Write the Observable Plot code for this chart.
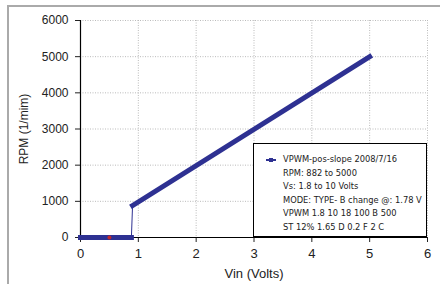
<!DOCTYPE html>
<html><head><meta charset="utf-8">
<script src="https://cdn.jsdelivr.net/npm/d3@7"></script>
<script src="https://cdn.jsdelivr.net/npm/@observablehq/plot@0.6"></script>
<style>
body{margin:0;background:#fff;}
#wrap{position:relative;width:440px;height:284px;overflow:hidden;background:#fff;}
#frame{position:absolute;left:7px;top:5px;width:500px;height:400px;border-top:2px solid #aaa;border-left:2px solid #aaa;}
#legend{position:absolute;left:253px;top:143px;width:174px;height:94px;border:1px solid #000;background:#fff;box-sizing:border-box;
 font-family:"DejaVu Sans",sans-serif;font-size:8.3px;color:#222;padding-top:9px;}
#legend div{height:13.6px;line-height:13.6px;padding-left:29px;position:relative;white-space:nowrap;}
#legend .mk{position:absolute;left:12px;top:6px;width:10px;height:1.5px;background:#2E3192;}
#legend .mk:after{content:"";position:absolute;left:3px;top:-1.5px;width:4px;height:4px;background:#2E3192;}
#chart{position:absolute;left:0;top:0;}
</style></head>
<body><div id="wrap"><div id="frame"></div><div id="chart"></div><div id="legend"></div></div>
<script>
const xTicks = [0,1,2,3,4,5,6];
const yTicks = [0,1000,2000,3000,4000,5000,6000];
const vin = [0, 0.5, 0.88, 0.9, 5.0];
const rpm = [0, 0, 0, 882, 5000];
const segment = ["off","off","off","on","on"];
const markerX = [0.5];
const markerY = [0];
const seriesName = "VPWM-pos-slope 2008/7/16";
const legendLines = ["RPM: 882 to 5000","Vs: 1.8 to 10 Volts","MODE: TYPE- B change @: 1.78 V","VPWM 1.8 10 18 100 B 500","ST 12% 1.65 D 0.2 F 2 C"];

const data = vin.map((v,i)=>({x:v,y:rpm[i],s:segment[i]}));
const red = markerX.map((v,i)=>({x:v,y:markerY[i]}));
const navy = "#2E3192";
const chart = Plot.plot({
  width:440, height:284,
  marginLeft:80, marginRight:13, marginTop:20, marginBottom:47,
  x:{domain:[0,6]},
  y:{domain:[0,6000]},
  style:{fontFamily:"'Liberation Sans', Arial, sans-serif", fontSize:"12px", color:"#222", background:"transparent"},
  marks:[
    Plot.gridX(xTicks.slice(1), {stroke:"#aaa", strokeOpacity:0.8, strokeDasharray:"1,1.5"}),
    Plot.gridY(yTicks.slice(1), {stroke:"#aaa", strokeOpacity:0.8, strokeDasharray:"1,1.5"}),
    Plot.axisX({ticks:xTicks, tickSize:5, tickPadding:6, tickFormat:d=>String(d), label:"Vin (Volts)", labelAnchor:"center", labelArrow:"none", labelOffset:40, fontSize:"13px"}),
    Plot.axisY({ticks:yTicks, tickSize:5, tickPadding:7, tickFormat:d=>String(d), label:"RPM (1/mim)", labelAnchor:"center", labelArrow:"none", labelOffset:61}),
    Plot.ruleX([0], {stroke:"#000", strokeWidth:1.2}),
    Plot.ruleY([0], {stroke:"#000", strokeWidth:1.2}),
    Plot.line(data, {x:"x", y:"y", stroke:navy, strokeWidth:1}),
    Plot.line(data, {x:"x", y:"y", z:"s", stroke:navy, strokeWidth:5, strokeLinecap:"square"}),
    Plot.dot(red, {x:"x", y:"y", r:2, fill:"#c0282d"})
  ]
});
document.getElementById("chart").appendChild(chart);
const lg = document.getElementById("legend");
const first = document.createElement("div");
first.innerHTML = '<span class="mk"></span>';
first.appendChild(document.createTextNode(seriesName));
lg.appendChild(first);
legendLines.forEach(t=>{const d=document.createElement("div");d.textContent=t;lg.appendChild(d);});
</script></body></html>
